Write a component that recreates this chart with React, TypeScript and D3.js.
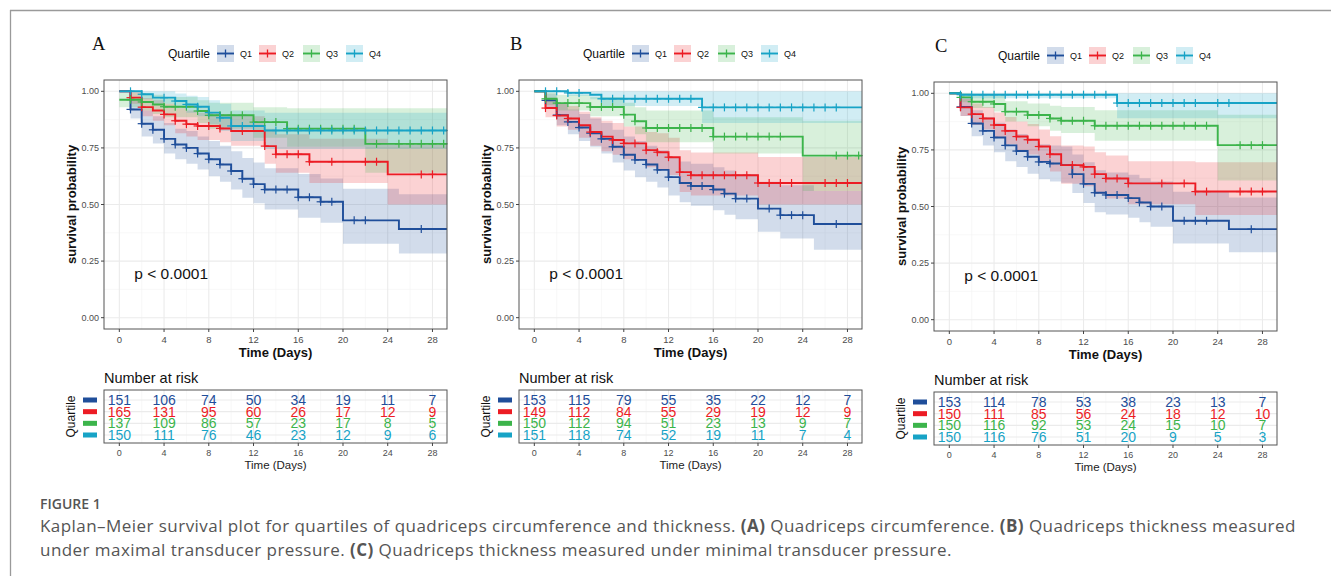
import React from 'react';
import * as d3 from 'd3';

// ---------------- data ----------------
const QUARTILES = ['Q1', 'Q2', 'Q3', 'Q4'];
const COLORS = ['#1f4e9a', '#ec1c24', '#3cb44b', '#17a3c6'];
const TIME_TICKS = [0, 4, 8, 12, 16, 20, 24, 28];
const TIME_MINOR = [2, 6, 10, 14, 18, 22, 26];
const SURV_TICKS = [0, 0.25, 0.5, 0.75, 1];
const SURV_MINOR = [0.125, 0.375, 0.625, 0.875];
const FOLLOW_UP_END = 29.3;
const P_VALUE_TEXT = 'p < 0.0001';
const PANEL_LABELS = ['A', 'B', 'C'];

// steps: [time, survival, lower CI, upper CI]
// Panel A – quadriceps circumference
const A_Q1 = [[0, 1, 1, 1], [1, 0.92, 0.88, 0.965], [2, 0.857, 0.8, 0.915], [3, 0.83, 0.77, 0.89], [4, 0.79, 0.725, 0.86], [5, 0.765, 0.7, 0.835], [6, 0.75, 0.68, 0.825], [7, 0.725, 0.655, 0.8], [8, 0.7, 0.625, 0.78], [9, 0.677, 0.6, 0.76], [10, 0.648, 0.566, 0.735], [11, 0.614, 0.53, 0.705], [12, 0.59, 0.505, 0.685], [13, 0.566, 0.478, 0.66], [16, 0.532, 0.441, 0.635], [18, 0.512, 0.419, 0.615], [20, 0.43, 0.327, 0.57], [25, 0.392, 0.283, 0.545]];
const A_Q2 = [[0, 1, 1, 1], [1, 0.972, 0.945, 1], [2, 0.93, 0.89, 0.97], [3, 0.915, 0.87, 0.96], [4, 0.898, 0.85, 0.945], [5, 0.87, 0.815, 0.925], [6, 0.855, 0.8, 0.915], [7, 0.847, 0.785, 0.905], [9, 0.836, 0.775, 0.9], [10, 0.825, 0.76, 0.89], [13, 0.758, 0.68, 0.835], [14, 0.722, 0.64, 0.81], [17, 0.689, 0.595, 0.79], [24, 0.633, 0.5, 0.765]];
const A_Q3 = [[0, 0.963, 0.93, 0.995], [2, 0.953, 0.915, 0.99], [3, 0.942, 0.9, 0.985], [4, 0.932, 0.885, 0.975], [7, 0.913, 0.86, 0.96], [8, 0.894, 0.835, 0.95], [12, 0.864, 0.795, 0.93], [15, 0.835, 0.755, 0.925], [22, 0.768, 0.64, 0.925]];
const A_Q4 = [[0, 1, 1, 1], [2, 0.987, 0.965, 1], [3, 0.972, 0.945, 1], [5, 0.957, 0.925, 0.99], [6, 0.942, 0.905, 0.98], [7, 0.932, 0.89, 0.975], [8, 0.906, 0.855, 0.96], [9, 0.883, 0.825, 0.945], [10, 0.847, 0.78, 0.915], [13, 0.827, 0.745, 0.905]];
const A_Q1_CENSOR = [1, 2, 3, 4, 5, 6, 7, 8, 9, 10, 11, 12, 13, 14, 15, 16, 17, 18, 19, 21, 22, 27];
const A_Q2_CENSOR = [1, 2, 4, 5, 6, 7, 8, 9, 11, 13, 14, 15, 16, 17, 19, 22, 23, 27, 28];
const A_Q3_CENSOR = [1, 2, 4, 5, 6, 7, 8, 9, 10, 11, 12, 13, 14, 15, 16, 17, 18, 19, 20, 21, 23, 25, 26, 27, 28, 29];
const A_Q4_CENSOR = [1, 2, 4, 5, 6, 7, 8, 9, 10, 11, 12, 14, 15, 16, 17, 18, 19, 20, 21, 22, 23, 24, 25, 26, 27, 28, 29];
const A_RISK_Q1 = [151, 106, 74, 50, 34, 19, 11, 7];
const A_RISK_Q2 = [165, 131, 95, 60, 26, 17, 12, 9];
const A_RISK_Q3 = [137, 109, 86, 57, 23, 17, 8, 5];
const A_RISK_Q4 = [150, 111, 76, 46, 23, 12, 9, 6];

// Panel B – thickness, maximal pressure
const B_Q1 = [[0, 1, 1, 1], [1, 0.96, 0.93, 0.99], [2, 0.895, 0.85, 0.945], [3, 0.865, 0.81, 0.92], [4, 0.84, 0.78, 0.9], [5, 0.815, 0.755, 0.88], [6, 0.79, 0.725, 0.86], [7, 0.755, 0.685, 0.83], [8, 0.72, 0.65, 0.8], [9, 0.697, 0.62, 0.78], [10, 0.677, 0.6, 0.76], [11, 0.653, 0.575, 0.74], [12, 0.621, 0.54, 0.71], [13, 0.595, 0.51, 0.69], [14, 0.582, 0.495, 0.68], [16, 0.566, 0.475, 0.665], [17, 0.548, 0.455, 0.65], [18, 0.526, 0.435, 0.635], [20, 0.482, 0.38, 0.6], [22, 0.453, 0.35, 0.585], [25, 0.414, 0.3, 0.56]];
const B_Q2 = [[0, 1, 1, 1], [1, 0.926, 0.885, 0.97], [2, 0.893, 0.845, 0.945], [3, 0.88, 0.83, 0.935], [4, 0.85, 0.795, 0.91], [5, 0.82, 0.76, 0.885], [6, 0.8, 0.735, 0.87], [7, 0.785, 0.72, 0.86], [8, 0.77, 0.7, 0.845], [10, 0.74, 0.665, 0.82], [11, 0.731, 0.655, 0.815], [12, 0.709, 0.63, 0.795], [13, 0.643, 0.555, 0.74], [14, 0.629, 0.54, 0.73], [20, 0.595, 0.5, 0.71]];
const B_Q3 = [[0, 1, 1, 1], [1, 0.967, 0.94, 0.995], [2, 0.948, 0.915, 0.985], [5, 0.931, 0.89, 0.975], [8, 0.897, 0.845, 0.95], [9, 0.868, 0.81, 0.93], [10, 0.838, 0.775, 0.915], [16, 0.8, 0.725, 0.885], [24, 0.716, 0.56, 0.87]];
const B_Q4 = [[0, 1, 1, 1], [3, 0.993, 0.98, 1], [5, 0.985, 0.965, 1], [6, 0.967, 0.935, 1], [15, 0.929, 0.86, 1]];
const B_Q1_CENSOR = [1, 2, 3, 4, 5, 6, 7, 8, 9, 10, 11, 12, 14, 15, 16, 17, 18, 19, 21, 22, 23, 24, 27];
const B_Q2_CENSOR = [1, 2, 3, 5, 7, 8, 9, 10, 11, 12, 13, 14, 15, 16, 17, 18, 19, 20, 21, 22, 23, 26, 27, 28];
const B_Q3_CENSOR = [1, 2, 3, 4, 5, 6, 7, 8, 9, 10, 11, 12, 13, 14, 15, 16, 17, 18, 19, 20, 21, 22, 27, 28, 29];
const B_Q4_CENSOR = [1, 2, 3, 4, 6, 7, 8, 9, 10, 11, 12, 13, 14, 15, 16, 17, 18, 19, 20, 21, 22, 23, 24, 25, 26, 27];
const B_RISK_Q1 = [153, 115, 79, 55, 35, 22, 12, 7];
const B_RISK_Q2 = [149, 112, 84, 55, 29, 19, 12, 9];
const B_RISK_Q3 = [150, 112, 94, 51, 23, 13, 9, 7];
const B_RISK_Q4 = [151, 118, 74, 52, 19, 11, 7, 4];

// Panel C – thickness, minimal pressure
const C_Q1 = [[0, 1, 1, 1], [1, 0.94, 0.9, 0.98], [2, 0.867, 0.81, 0.925], [3, 0.834, 0.77, 0.895], [4, 0.805, 0.74, 0.87], [5, 0.77, 0.7, 0.84], [6, 0.745, 0.675, 0.82], [7, 0.72, 0.645, 0.795], [8, 0.697, 0.62, 0.775], [9, 0.69, 0.61, 0.77], [10, 0.683, 0.605, 0.765], [11, 0.643, 0.56, 0.73], [12, 0.6, 0.515, 0.695], [13, 0.561, 0.475, 0.66], [14, 0.551, 0.465, 0.65], [16, 0.537, 0.45, 0.64], [17, 0.518, 0.43, 0.625], [18, 0.5, 0.41, 0.61], [20, 0.437, 0.336, 0.565], [25, 0.4, 0.298, 0.54]];
const C_Q2 = [[0, 1, 1, 1], [1, 0.938, 0.9, 0.975], [2, 0.908, 0.86, 0.955], [3, 0.889, 0.84, 0.94], [4, 0.86, 0.805, 0.915], [5, 0.834, 0.775, 0.895], [6, 0.809, 0.745, 0.875], [7, 0.795, 0.73, 0.865], [8, 0.765, 0.695, 0.84], [9, 0.731, 0.655, 0.81], [10, 0.683, 0.6, 0.77], [12, 0.675, 0.59, 0.765], [13, 0.643, 0.555, 0.74], [14, 0.624, 0.535, 0.725], [16, 0.602, 0.51, 0.7], [22, 0.566, 0.463, 0.695]];
const C_Q3 = [[0, 1, 1, 1], [1, 0.982, 0.96, 1], [2, 0.963, 0.935, 0.995], [4, 0.953, 0.92, 0.99], [5, 0.919, 0.875, 0.965], [7, 0.904, 0.855, 0.955], [9, 0.889, 0.835, 0.945], [10, 0.879, 0.825, 0.94], [13, 0.857, 0.79, 0.925], [24, 0.771, 0.615, 0.905]];
const C_Q4 = [[0, 1, 1, 1], [1, 0.994, 0.978, 1], [15, 0.957, 0.89, 1]];
const C_Q1_CENSOR = [1, 2, 3, 4, 5, 6, 7, 8, 9, 11, 12, 13, 14, 15, 16, 17, 18, 19, 21, 22, 23, 27];
const C_Q2_CENSOR = [1, 2, 3, 4, 5, 6, 7, 8, 9, 11, 12, 13, 14, 15, 16, 19, 21, 22, 23, 26, 27, 28];
const C_Q3_CENSOR = [1, 2, 3, 4, 5, 6, 7, 8, 9, 10, 11, 12, 13, 14, 15, 16, 17, 18, 19, 20, 21, 22, 23, 26, 27, 28];
const C_Q4_CENSOR = [1, 2, 3, 4, 5, 6, 7, 8, 9, 10, 11, 12, 13, 14, 15, 16, 17, 18, 19, 20, 21, 22, 24, 25];
const C_RISK_Q1 = [153, 114, 78, 53, 38, 23, 13, 7];
const C_RISK_Q2 = [150, 111, 85, 56, 24, 18, 12, 10];
const C_RISK_Q3 = [150, 116, 92, 53, 24, 15, 10, 7];
const C_RISK_Q4 = [150, 116, 76, 51, 20, 9, 5, 3];

const PANELS = [
  { curves: [A_Q1, A_Q2, A_Q3, A_Q4], censors: [A_Q1_CENSOR, A_Q2_CENSOR, A_Q3_CENSOR, A_Q4_CENSOR], risk: [A_RISK_Q1, A_RISK_Q2, A_RISK_Q3, A_RISK_Q4] },
  { curves: [B_Q1, B_Q2, B_Q3, B_Q4], censors: [B_Q1_CENSOR, B_Q2_CENSOR, B_Q3_CENSOR, B_Q4_CENSOR], risk: [B_RISK_Q1, B_RISK_Q2, B_RISK_Q3, B_RISK_Q4] },
  { curves: [C_Q1, C_Q2, C_Q3, C_Q4], censors: [C_Q1_CENSOR, C_Q2_CENSOR, C_Q3_CENSOR, C_Q4_CENSOR], risk: [C_RISK_Q1, C_RISK_Q2, C_RISK_Q3, C_RISK_Q4] },
];

// ---------------- layout ----------------
const LAYOUTS = [
  { left: 104, top: 80, labelX: 92, labelY: 50 },
  { left: 519, top: 80, labelX: 510, labelY: 49.5 },
  { left: 934, top: 82, labelX: 935, labelY: 51.5 },
];
const PW = 343;
const PH = 249;
const FONT = "'Liberation Sans', Arial, Helvetica, sans-serif";
const CAPTION_FONT = "'Open Sans', 'Noto Sans', sans-serif";

function survAt(steps: number[][], t: number) {
  let s = steps[0][1];
  for (const st of steps) if (st[0] <= t) s = st[1];
  return s;
}

function KMPanel({ idx }: { idx: number }) {
  const def = PANELS[idx];
  const L = LAYOUTS[idx];
  const { left, top } = L;
  const x = d3.scaleLinear().domain([-1.37, 29.3]).range([left, left + PW]);
  const y = d3.scaleLinear().domain([-0.05, 1.05]).range([top + PH, top]);

  const withEnd = (steps: number[][]) => {
    const last = steps[steps.length - 1];
    return [...steps, [FOLLOW_UP_END, last[1], last[2], last[3]]];
  };
  const line = d3.line<number[]>().x((d) => x(d[0])).y((d) => y(d[1])).curve(d3.curveStepAfter);
  const area = d3.area<number[]>().x((d) => x(d[0])).y0((d) => y(d[2])).y1((d) => y(d[3])).curve(d3.curveStepAfter);

  // risk table
  const tTop = top + PH + 61;
  const tH = 53;
  const ry = d3.scalePoint<string>().domain(QUARTILES).range([tTop + 10, tTop + 45]);

  const legendY = top - 26.5;
  const keyOffsets = [113, 155, 199, 242];

  return (
    <g>
      <text x={L.labelX} y={L.labelY} fontFamily="'Liberation Serif', 'Times New Roman', serif" fontSize={18.5} fill="#111">{PANEL_LABELS[idx]}</text>
      {/* legend */}
      <text x={left + 64} y={legendY + 4.2} fontSize={12} fill="#111">Quartile</text>
      {QUARTILES.map((q, i) => {
        const kx = left + keyOffsets[i];
        return (
          <g key={q}>
            <rect x={kx} y={legendY - 8.5} width={17} height={17} fill={COLORS[i]} fillOpacity={0.2} />
            <line x1={kx} x2={kx + 17} y1={legendY} y2={legendY} stroke={COLORS[i]} strokeWidth={1.9} />
            <line x1={kx + 8.5} x2={kx + 8.5} y1={legendY - 4} y2={legendY + 4} stroke={COLORS[i]} strokeWidth={1.3} />
            <text x={kx + 23} y={legendY + 3.2} fontSize={9} fill="#111">{q}</text>
          </g>
        );
      })}

      {/* plot panel */}
      <rect x={left} y={top} width={PW} height={PH} fill="#fff" />
      {TIME_MINOR.map((t) => <line key={'xm' + t} x1={x(t)} x2={x(t)} y1={top} y2={top + PH} stroke="#f3f3f3" strokeWidth={0.6} />)}
      {SURV_MINOR.map((s) => <line key={'ym' + s} x1={left} x2={left + PW} y1={y(s)} y2={y(s)} stroke="#f3f3f3" strokeWidth={0.6} />)}
      {TIME_TICKS.map((t) => <line key={'xg' + t} x1={x(t)} x2={x(t)} y1={top} y2={top + PH} stroke="#ebebeb" strokeWidth={1.1} />)}
      {SURV_TICKS.map((s) => <line key={'yg' + s} x1={left} x2={left + PW} y1={y(s)} y2={y(s)} stroke="#ebebeb" strokeWidth={1.1} />)}

      {def.curves.map((c, i) => (
        <path key={'band' + i} d={area(withEnd(c)) || ''} fill={COLORS[i]} fillOpacity={0.2} stroke="none" />
      ))}
      {def.curves.map((c, i) => (
        <path key={'line' + i} d={line(withEnd(c)) || ''} fill="none" stroke={COLORS[i]} strokeWidth={1.9} />
      ))}
      {def.censors.map((cs, i) =>
        cs.map((t) => {
          const cx = x(t);
          const cy = y(survAt(def.curves[i], t));
          return (
            <g key={'c' + i + '-' + t}>
              <line x1={cx - 4} x2={cx + 4} y1={cy} y2={cy} stroke={COLORS[i]} strokeWidth={1.2} />
              <line x1={cx} x2={cx} y1={cy - 4} y2={cy + 4} stroke={COLORS[i]} strokeWidth={1.2} />
            </g>
          );
        })
      )}
      <rect x={left} y={top} width={PW} height={PH} fill="none" stroke="#555" strokeWidth={1} />

      {/* axes */}
      {SURV_TICKS.map((s) => (
        <g key={'yt' + s}>
          <line x1={left - 3} x2={left} y1={y(s)} y2={y(s)} stroke="#444" />
          <text x={left - 5} y={y(s)} dy="0.35em" textAnchor="end" fontSize={9} fill="#4d4d4d">{d3.format('.2f')(s)}</text>
        </g>
      ))}
      {TIME_TICKS.map((t) => (
        <g key={'xt' + t}>
          <line x1={x(t)} x2={x(t)} y1={top + PH} y2={top + PH + 3} stroke="#444" />
          <text x={x(t)} y={top + PH + 13.5} textAnchor="middle" fontSize={9.5} fill="#4d4d4d">{t}</text>
        </g>
      ))}
      <text x={left + PW / 2} y={top + PH + 28} textAnchor="middle" fontSize={13} fontWeight="bold" fill="#111">Time (Days)</text>
      <text transform={`translate(${left - 33},${top + PH / 2}) rotate(-90)`} textAnchor="middle" dy="0.35em" fontSize={13} fontWeight="bold" fill="#111">survival probability</text>
      <text x={x(0) + 15} y={y(0.195)} dy="0.35em" fontSize={15.5} fill="#111">{P_VALUE_TEXT}</text>

      {/* risk table */}
      <text x={left} y={tTop - 7} fontSize={14.5} fill="#111">Number at risk</text>
      <rect x={left} y={tTop} width={PW} height={tH} fill="#fff" />
      {TIME_MINOR.map((t) => <line key={'rxm' + t} x1={x(t)} x2={x(t)} y1={tTop} y2={tTop + tH} stroke="#f3f3f3" strokeWidth={0.6} />)}
      {TIME_TICKS.map((t) => <line key={'rxg' + t} x1={x(t)} x2={x(t)} y1={tTop} y2={tTop + tH} stroke="#ebebeb" strokeWidth={1.1} />)}
      {QUARTILES.map((q) => <line key={'ryg' + q} x1={left} x2={left + PW} y1={ry(q)} y2={ry(q)} stroke="#ebebeb" strokeWidth={1.1} />)}
      {def.risk.map((row, i) =>
        row.map((n, j) => (
          <text key={'r' + i + '-' + j} x={x(TIME_TICKS[j])} y={ry(QUARTILES[i])} dy="0.36em" textAnchor="middle" fontSize={14} fill={COLORS[i]}>{n}</text>
        ))
      )}
      <rect x={left} y={tTop} width={PW} height={tH} fill="none" stroke="#555" strokeWidth={1} />
      {QUARTILES.map((q, i) => (
        <rect key={'rl' + q} x={left - 21} y={(ry(q) as number) - 2.5} width={14} height={5} fill={COLORS[i]} />
      ))}
      <text transform={`translate(${left - 33},${tTop + tH / 2}) rotate(-90)`} textAnchor="middle" dy="0.35em" fontSize={12} fill="#111">Quartile</text>
      {TIME_TICKS.map((t) => (
        <g key={'rxt' + t}>
          <line x1={x(t)} x2={x(t)} y1={tTop + tH} y2={tTop + tH + 3} stroke="#444" />
          <text x={x(t)} y={tTop + tH + 12.5} textAnchor="middle" fontSize={9} fill="#4d4d4d">{t}</text>
        </g>
      ))}
      <text x={left + PW / 2} y={tTop + tH + 25.5} textAnchor="middle" fontSize={11.5} fill="#222">Time (Days)</text>
    </g>
  );
}

export default function App() {
  return (
    <svg width={1331} height={576} style={{ position: 'absolute', left: 0, top: 0, background: '#fff' }} fontFamily={FONT}>
      <rect x={0} y={0} width={1331} height={576} fill="#fff" />
      <line x1={10} x2={1331} y1={10.5} y2={10.5} stroke="#9a9a9a" strokeWidth={1.3} />
      <line x1={10.5} x2={10.5} y1={10} y2={576} stroke="#9a9a9a" strokeWidth={1.3} />
      {PANELS.map((_, i) => <KMPanel key={i} idx={i} />)}
      <text x={40} y={508.5} fontFamily={CAPTION_FONT} fontSize={14} fontWeight={600} fill="#555">FIGURE 1</text>
      <text x={40} y={532} fontFamily={CAPTION_FONT} fontSize={17} letterSpacing={0.45} fill="#555">
        Kaplan–Meier survival plot for quartiles of quadriceps circumference and thickness. <tspan fontWeight="bold">(A)</tspan> Quadriceps circumference. <tspan fontWeight="bold">(B)</tspan> Quadriceps thickness measured
      </text>
      <text x={40} y={556} fontFamily={CAPTION_FONT} fontSize={17} letterSpacing={0.45} fill="#555">
        under maximal transducer pressure. <tspan fontWeight="bold">(C)</tspan> Quadriceps thickness measured under minimal transducer pressure.
      </text>
    </svg>
  );
}
